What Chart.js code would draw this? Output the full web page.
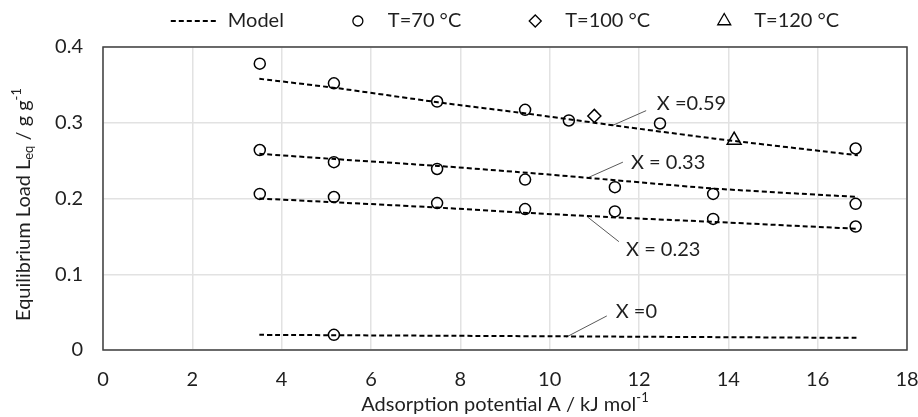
<!DOCTYPE html>
<html lang="en">
<head>
    <meta charset="UTF-8">
    <title>Equilibrium Load vs Adsorption Potential</title>
    <script src="https://cdn.jsdelivr.net/npm/chart.js"></script>
    <style>
        body { margin: 0; background: #fff; }
        #wrap { width: 918px; height: 417px; }
    </style>
</head>
<body>
    <div id="wrap"><canvas id="loadChart"></canvas></div>

    <script>
        // measured points, T = 70 °C
        const t70X = [3.51, 3.51, 3.51, 5.17, 5.17, 5.17, 5.17, 7.48, 7.48, 7.48, 9.45, 9.45, 9.45,
                      10.43, 11.46, 11.46, 12.47, 13.66, 13.66, 16.85, 16.85, 16.85];
        const t70Y = [0.378, 0.264, 0.206, 0.352, 0.248, 0.202, 0.020, 0.328, 0.239, 0.194, 0.317, 0.225, 0.186,
                      0.303, 0.215, 0.183, 0.299, 0.206, 0.173, 0.266, 0.193, 0.163];
        const t100X = [11.0];
        const t100Y = [0.309];
        const t120X = [14.13];
        const t120Y = [0.277];

        // model curves
        const modelX = [3.5, 5.2, 7.5, 9.5, 11.5, 13.7, 16.9];
        const model059 = [0.358, 0.346, 0.327, 0.312, 0.296, 0.279, 0.257];
        const model033 = [0.259, 0.252, 0.243, 0.234, 0.224, 0.213, 0.202];
        const model023 = [0.200, 0.195, 0.188, 0.181, 0.175, 0.169, 0.160];
        const model0X = [3.5, 10.4, 16.9];
        const model0 = [0.020, 0.018, 0.016];

        const xTicks = [0, 2, 4, 6, 8, 10, 12, 14, 16, 18];
        const yTicks = [0, 0.1, 0.2, 0.3, 0.4];

        // curve labels: text anchor and leader line, in data units
        const curveLabels = [
            { text: 'X =0.59', x: 12.40, y: 0.326, from: [12.16, 0.316], to: [11.39, 0.296] },
            { text: 'X = 0.33', x: 11.82, y: 0.247, from: [11.64, 0.248], to: [10.84, 0.227] },
            { text: 'X = 0.23', x: 11.71, y: 0.133, from: [11.55, 0.143], to: [10.84, 0.176] },
            { text: 'X =0', x: 11.48, y: 0.051, from: [11.28, 0.045], to: [10.37, 0.017] }
        ];

        const FONT = 'Lato, "Open Sans", sans-serif';
        const TEXT = '#1f1f1f';
        const zip = (xs, ys) => xs.map((x, i) => ({ x: x, y: ys[i] }));

        const modelStyle = {
            type: 'line',
            borderColor: '#000',
            borderWidth: 2,
            borderDash: [5, 3],
            pointRadius: 0,
            tension: 0.2,
            fill: false
        };
        const markerStyle = {
            type: 'scatter',
            borderColor: '#000',
            backgroundColor: 'rgba(0,0,0,0)',
            borderWidth: 1.5
        };

        function richText(ctx, parts, cx, cy) {
            let total = 0;
            parts.forEach(p => {
                ctx.font = (p.sub || p.sup ? '13px ' : '20px ') + FONT;
                p.w = ctx.measureText(p.t).width;
                total += p.w;
            });
            let x = cx - total / 2;
            ctx.textAlign = 'left';
            ctx.textBaseline = 'middle';
            parts.forEach(p => {
                ctx.font = (p.sub || p.sup ? '13px ' : '20px ') + FONT;
                const dy = p.sub ? 5 : (p.sup ? -7 : 0);
                ctx.fillText(p.t, x, cy + dy);
                x += p.w;
            });
        }

        function drawMarker(ctx, style, x, y, r) {
            ctx.beginPath();
            if (style === 'circle') {
                ctx.arc(x, y, r, 0, Math.PI * 2);
            } else if (style === 'rectRot') {
                ctx.moveTo(x - r, y); ctx.lineTo(x, y - r); ctx.lineTo(x + r, y); ctx.lineTo(x, y + r);
                ctx.closePath();
            } else if (style === 'triangle') {
                ctx.moveTo(x, y - r);
                ctx.lineTo(x + r * 0.866, y + r * 0.5);
                ctx.lineTo(x - r * 0.866, y + r * 0.5);
                ctx.closePath();
            }
            ctx.stroke();
        }

        const decor = {
            id: 'decor',
            beforeDatasetsDraw(chart) {
                const { ctx, chartArea: a, scales: { x, y } } = chart;
                ctx.save();
                ctx.strokeStyle = '#404040';
                ctx.lineWidth = 1.5;
                ctx.strokeRect(a.left, a.top, a.right - a.left, a.bottom - a.top);

                ctx.strokeStyle = '#595959';
                ctx.lineWidth = 1;
                ctx.fillStyle = TEXT;
                ctx.font = '20px ' + FONT;
                ctx.textAlign = 'left';
                ctx.textBaseline = 'middle';
                curveLabels.forEach(l => {
                    ctx.beginPath();
                    ctx.moveTo(x.getPixelForValue(l.from[0]), y.getPixelForValue(l.from[1]));
                    ctx.lineTo(x.getPixelForValue(l.to[0]), y.getPixelForValue(l.to[1]));
                    ctx.stroke();
                    ctx.fillText(l.text, x.getPixelForValue(l.x), y.getPixelForValue(l.y));
                });
                ctx.restore();
            },
            afterDraw(chart) {
                const { ctx, chartArea: a } = chart;
                ctx.save();
                ctx.fillStyle = TEXT;

                // axis titles
                richText(ctx, [{ t: 'Adsorption potential A / kJ mol' }, { t: '-1', sup: true }],
                    (a.left + a.right) / 2, 405);
                ctx.translate(24, (a.top + a.bottom) / 2 + 6);
                ctx.rotate(-Math.PI / 2);
                richText(ctx, [{ t: 'Equilibrium Load L' }, { t: 'eq', sub: true },
                               { t: ' / g g' }, { t: '-1', sup: true }], 0, 0);
                ctx.setTransform(1, 0, 0, 1, 0, 0);

                // legend
                const items = [
                    { text: 'Model', kind: 'line', box: 48 },
                    { text: 'T=70 °C', kind: 'circle', r: 5, box: 42 },
                    { text: 'T=100 °C', kind: 'rectRot', r: 6, box: 42 },
                    { text: 'T=120 °C', kind: 'triangle', r: 7.5, box: 42 }
                ];
                const gap = 9, pad = 53, ly = 21;
                ctx.font = '20px ' + FONT;
                let total = 0;
                items.forEach(it => { it.w = it.box + gap + ctx.measureText(it.text).width; total += it.w; });
                total += pad * (items.length - 1);
                let lx = (a.left + a.right) / 2 - total / 2;
                ctx.strokeStyle = '#000';
                items.forEach(it => {
                    if (it.kind === 'line') {
                        ctx.lineWidth = 2;
                        ctx.setLineDash([5, 3]);
                        ctx.beginPath();
                        ctx.moveTo(lx, ly);
                        ctx.lineTo(lx + it.box, ly);
                        ctx.stroke();
                        ctx.setLineDash([]);
                    } else {
                        ctx.lineWidth = 1.3;
                        drawMarker(ctx, it.kind, lx + it.box / 2, ly, it.r);
                    }
                    ctx.textAlign = 'left';
                    ctx.textBaseline = 'middle';
                    ctx.fillText(it.text, lx + it.box + gap, ly);
                    lx += it.w + pad;
                });
                ctx.restore();
            }
        };

        const ctx = document.getElementById('loadChart').getContext('2d');
        new Chart(ctx, {
            data: {
                datasets: [
                    Object.assign({ label: 'Model', data: zip(modelX, model059) }, modelStyle),
                    Object.assign({ label: 'Model', data: zip(modelX, model033) }, modelStyle),
                    Object.assign({ label: 'Model', data: zip(modelX, model023) }, modelStyle),
                    Object.assign({ label: 'Model', data: zip(model0X, model0) }, modelStyle),
                    Object.assign({ label: 'T=70 °C', data: zip(t70X, t70Y), pointStyle: 'circle', pointRadius: 5.5 }, markerStyle),
                    Object.assign({ label: 'T=100 °C', data: zip(t100X, t100Y), pointStyle: 'rectRot', pointRadius: 6.5 }, markerStyle),
                    Object.assign({ label: 'T=120 °C', data: zip(t120X, t120Y), pointStyle: 'triangle', pointRadius: 8 }, markerStyle)
                ]
            },
            options: {
                responsive: true,
                maintainAspectRatio: false,
                animation: false,
                devicePixelRatio: 1,
                layout: { padding: { top: 47, right: 11, left: 0, bottom: 0 } },
                plugins: {
                    legend: { display: false },
                    tooltip: { enabled: false }
                },
                scales: {
                    x: {
                        type: 'linear',
                        min: 0,
                        max: 18,
                        afterFit: s => { s.height = 67; s.paddingLeft = 0; s.paddingRight = 0; },
                        afterBuildTicks: s => { s.ticks = xTicks.map(v => ({ value: v })); },
                        grid: { color: '#e2e2e2', lineWidth: 1.5, drawTicks: false },
                        border: { display: false },
                        ticks: { color: TEXT, font: { family: FONT, size: 20 }, padding: 18, maxRotation: 0 }
                    },
                    y: {
                        type: 'linear',
                        min: 0,
                        max: 0.4,
                        afterFit: s => { s.width = 103; s.paddingTop = 0; s.paddingBottom = 0; },
                        afterBuildTicks: s => { s.ticks = yTicks.map(v => ({ value: v })); },
                        grid: { color: '#e2e2e2', lineWidth: 1.5, drawTicks: false },
                        border: { display: false },
                        ticks: { color: TEXT, font: { family: FONT, size: 20 }, padding: 20 }
                    }
                }
            },
            plugins: [decor]
        });
    </script>
</body>
</html>
